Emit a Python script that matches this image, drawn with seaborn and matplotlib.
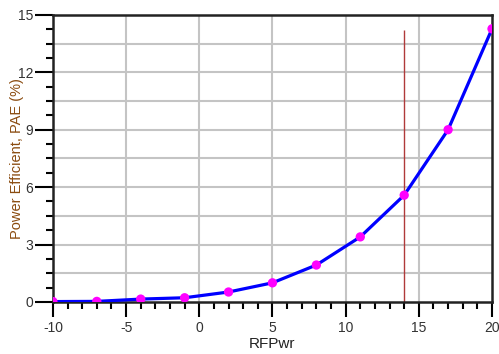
import numpy as np
import pandas as pd
import seaborn as sns
import matplotlib.pyplot as plt
from matplotlib.ticker import MultipleLocator

# values
rf_pwr = [-10, -7, -4, -1, 2, 5, 8, 11, 14, 17, 20]
pae = [0.02, 0.03, 0.15, 0.22, 0.52, 1.0, 1.93, 3.4, 5.58, 9.0, 14.27]
marker_x = 14
marker_top = 14.2

df = pd.DataFrame({'RFPwr': rf_pwr, 'PAE': pae})

sns.set_style('white')
plt.rcParams['font.family'] = ['Liberation Sans', 'DejaVu Sans']
plt.rcParams['axes.unicode_minus'] = False

fig = plt.figure(figsize=(4.99, 3.54), dpi=100)
ax = fig.add_axes([0.106, 0.147, 0.880, 0.811])

sns.lineplot(data=df, x='RFPwr', y='PAE', color='#0000ff', linewidth=2.3, ax=ax, zorder=3)
sns.scatterplot(data=df, x='RFPwr', y='PAE', color='#ff00ff', s=45, edgecolor='none',
                ax=ax, zorder=4)
ax.vlines(marker_x, 0, marker_top, color='#b03a3a', linewidth=1, zorder=2)

ax.set_xlim(-10, 20)
ax.set_ylim(0, 15)
ax.xaxis.set_major_locator(MultipleLocator(5))
ax.xaxis.set_minor_locator(MultipleLocator(1))
ax.yaxis.set_major_locator(MultipleLocator(3))
ax.yaxis.set_minor_locator(MultipleLocator(0.75))

# grid: x at major, y every 1.5
for v in range(-5, 20, 5):
    ax.axvline(v, color='#c4c4c4', linewidth=1.5, zorder=1)
for v in np.arange(1.5, 15, 1.5):
    ax.axhline(v, color='#c4c4c4', linewidth=1.5, zorder=1)

ax.tick_params(which='major', direction='out', width=1.5, color='black',
               labelsize=10, labelcolor='#333333', bottom=True, left=True)
ax.tick_params(axis='x', which='major', length=11, pad=3)
ax.tick_params(axis='y', which='major', length=13, pad=1)
ax.tick_params(which='minor', direction='out', length=5, width=1.5, color='black',
               bottom=True, left=True)
for s in ax.spines.values():
    s.set_color('#222222')
    s.set_linewidth(1.8)

ax.set_xlabel('RFPwr', fontsize=11, color='#222222', labelpad=1)
ax.set_ylabel('Power Efficient, PAE (%)', fontsize=10.5, color='#8a4b0f')
ax.yaxis.set_label_coords(-0.065, 0.5)

plt.savefig('out.png', dpi=100)
